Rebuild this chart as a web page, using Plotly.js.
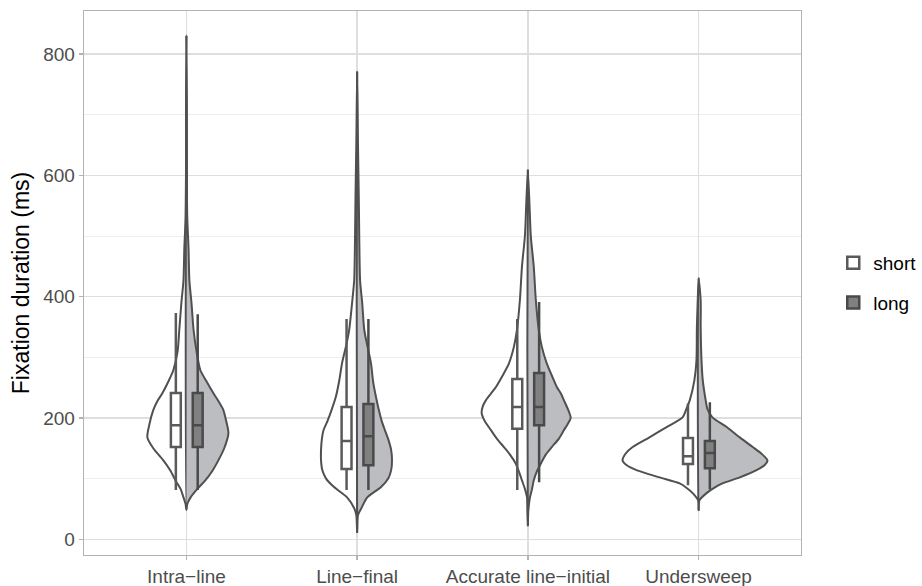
<!DOCTYPE html>
<html>
<head>
<meta charset="utf-8">
<script src="https://cdn.plot.ly/plotly-3.0.1.min.js"></script>
<style>html,body{margin:0;padding:0;background:#fff;}#chart{width:922px;height:586px;}</style>
</head>
<body>
<div id="chart"></div>
<script>
// ---------- DATA ----------
const categories = ['Intra\u2212line', 'Line\u2212final', 'Accurate line\u2212initial', 'Undersweep'];
const groups = ['short', 'long'];

// Violin density profiles (relative density at each fixation duration level)
const intraShortY = [48,58,69,83,97,113,130,150,168,190,213,228,241,260,279,310,345,390,427,480,530,600,700,831];
const intraShortD = [0,.02,.07,.14,.26,.38,.55,.79,.93,.88,.79,.69,.57,.43,.31,.21,.17,.12,.07,.05,.02,.01,.01,0];
const intraLongY  = [48,58,69,83,97,113,130,150,175,200,213,228,241,260,279,310,345,390,427,480,530,600,700,831];
const intraLongD  = [0,.02,.10,.26,.45,.62,.76,.90,1.0,.93,.88,.76,.64,.48,.33,.24,.17,.12,.07,.05,.02,.01,.01,0];

const finalShortY = [12,40,51,69,86,100,114,130,147,165,180,196,215,234,260,290,320,345,390,427,500,560,650,770];
const finalShortD = [0,.02,.07,.24,.55,.74,.83,.86,.86,.84,.80,.70,.60,.51,.43,.36,.26,.19,.12,.07,.05,.04,.02,0];
const finalLongY  = [12,40,51,69,86,100,114,130,147,165,180,196,215,234,260,290,320,345,390,427,500,560,650,770];
const finalLongD  = [0,.02,.10,.24,.57,.74,.81,.83,.81,.74,.66,.58,.51,.45,.38,.33,.24,.17,.12,.07,.05,.04,.02,0];

const accShortY = [23,46,69,83,97,111,125,140,152,166,180,194,208,220,229,240,251,270,290,318,345,394,450,500,550,608];
const accShortD = [0,.01,.02,.07,.14,.21,.29,.43,.57,.74,.88,1.02,1.10,1.07,1.0,.88,.76,.60,.45,.33,.26,.19,.14,.07,.04,0];
const accLongY  = [23,46,69,83,97,111,125,140,152,166,180,190,200,210,229,240,251,270,290,318,345,394,450,500,550,608];
const accLongD  = [0,.01,.05,.10,.14,.21,.31,.43,.57,.74,.86,.95,1.02,.98,.86,.79,.69,.57,.45,.33,.26,.19,.14,.07,.04,0];

const underShortY = [48,64,76,85,92,102,114,122,130,141,152,168,185,201,215,229,262,295,350,394,430];
const underShortD = [0,.01,.14,.29,.45,.93,1.48,1.71,1.81,1.74,1.57,1.17,.76,.38,.29,.21,.10,.05,.04,.02,0];
const underLongY  = [48,64,76,85,92,102,114,122,130,141,152,168,185,201,215,229,262,295,350,394,430];
const underLongD  = [0,.02,.19,.38,.57,.98,1.38,1.57,1.64,1.50,1.29,.98,.67,.33,.21,.17,.10,.07,.05,.05,0];

// Box statistics per category: [short, long]
const boxLowerFence = [[81,81],[81,81],[81,94],[89,82]];
const boxQ1         = [[152,152],[116,122],[182,188],[124,117]];
const boxMedian     = [[188,188],[162,170],[218,218],[137,142]];
const boxQ3         = [[241,241],[218,223],[264,274],[167,162]];
const boxUpperFence = [[373,371],[363,363],[363,391],[224,226]];

const yTickVals = [0, 200, 400, 600, 800];

// ---------- STYLE ----------
const OUTLINE = '#505050';
const VIOLIN_FILL = ['#ffffff', '#bcbdc1'];
const BOX_FILL = ['#ffffff', '#808080'];
const BOX_LINE = ['#5a5a5a', '#4a4a4a'];
const DENS_SCALE = 0.246;   // category units per density unit
const BOX_OFFSET = [-0.062, 0.066];
const BOX_WIDTH = 0.058;
const FONT = 'Liberation Sans, Arial, Helvetica, sans-serif';
const X_RANGE = [-0.6, 3.6];
const Y_RANGE = [-26, 871];

const profiles = [
  [[intraShortY, intraShortD], [intraLongY, intraLongD]],
  [[finalShortY, finalShortD], [finalLongY, finalLongD]],
  [[accShortY, accShortD], [accLongY, accLongD]],
  [[underShortY, underShortD], [underLongY, underLongD]]
];

const traces = [];
profiles.forEach((pair, ci) => {
  pair.forEach((prof, gi) => {
    const ys = prof[0], ds = prof[1];
    const sign = gi === 0 ? -1 : 1;
    const xs = ds.map(d => ci + sign * d * DENS_SCALE);
    const yy = ys.slice();
    xs.push(ci); yy.push(ys[0]);
    traces.push({
      type: 'scatter', mode: 'lines', x: xs, y: yy,
      fill: 'toself', fillcolor: VIOLIN_FILL[gi],
      line: {color: OUTLINE, width: 2, shape: 'spline', smoothing: 0.7},
      hoverinfo: 'skip', showlegend: false
    });
  });
});

groups.forEach((g, gi) => {
  traces.push({
    type: 'box', name: g, legendgroup: g,
    xaxis: 'x2', yaxis: 'y2',
    x: categories.map((c, ci) => ci + BOX_OFFSET[gi]),
    q1: boxQ1.map(r => r[gi]),
    median: boxMedian.map(r => r[gi]),
    q3: boxQ3.map(r => r[gi]),
    lowerfence: boxLowerFence.map(r => r[gi]),
    upperfence: boxUpperFence.map(r => r[gi]),
    width: BOX_WIDTH, whiskerwidth: 0, boxpoints: false,
    fillcolor: BOX_FILL[gi],
    line: {color: BOX_LINE[gi], width: 2.5},
    showlegend: true
  });
});

const axisCommon = {
  zeroline: false, showline: true, mirror: true, linecolor: '#b3b3b3', linewidth: 1.3,
  ticks: 'outside', ticklen: 4, tickcolor: '#b3b3b3', tickwidth: 1.3,
  tickfont: {family: FONT, size: 19, color: '#4d4d4d'}
};

const layout = {
  width: 922, height: 586,
  margin: {l: 84, r: 121, t: 11, b: 31, autoexpand: false},
  paper_bgcolor: '#ffffff', plot_bgcolor: '#ffffff',
  font: {family: FONT, size: 19, color: '#4d4d4d'},
  boxmode: 'overlay',
  showlegend: true,
  legend: {x: 1.045, xanchor: 'left', y: 0.5, yanchor: 'middle',
           font: {family: FONT, size: 19, color: '#000000'},
           tracegroupgap: 12, bgcolor: 'rgba(0,0,0,0)', itemwidth: 30},
  xaxis: Object.assign({}, axisCommon, {
    range: X_RANGE, tickmode: 'array',
    tickvals: categories.map((c, i) => i), ticktext: categories,
    showgrid: true, gridcolor: '#dedede', gridwidth: 1.3
  }),
  yaxis: Object.assign({}, axisCommon, {
    range: Y_RANGE, tickmode: 'array', tickvals: yTickVals,
    showgrid: true, gridcolor: '#dedede', gridwidth: 1.3,
    minor: {dtick: 100, tick0: 0, showgrid: true, gridcolor: '#e8e8e8', gridwidth: 0.8, ticks: ''},
    title: {text: 'Fixation duration (ms)', font: {family: FONT, size: 23, color: '#000000'}, standoff: 7}
  }),
  xaxis2: {overlaying: 'x', range: X_RANGE, visible: false, showgrid: false, zeroline: false},
  yaxis2: {overlaying: 'y', range: Y_RANGE, visible: false, showgrid: false, zeroline: false}
};

Plotly.newPlot('chart', traces, layout, {displayModeBar: false, staticPlot: true});
</script>
</body>
</html>
